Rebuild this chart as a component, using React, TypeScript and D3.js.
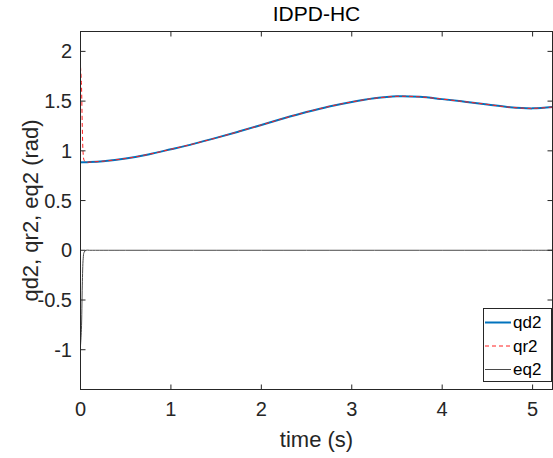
import React from 'react';
import * as d3 from 'd3';

// time samples (s), dense near t=0 to catch the start-up transient
const TIME = [0, 0.01, 0.02, 0.03, 0.04, 0.06, 0.1, 0.25, 0.5, 0.75, 1, 1.25, 1.5, 1.75, 2, 2.25, 2.5, 2.75, 3, 3.25, 3.5, 3.75, 4, 4.25, 4.5, 4.75, 5, 5.22];
// desired joint angle
const QD2 = [0.884, 0.884, 0.884, 0.885, 0.885, 0.886, 0.887, 0.896, 0.923, 0.964, 1.016, 1.07, 1.13, 1.194, 1.26, 1.327, 1.39, 1.446, 1.492, 1.528, 1.548, 1.543, 1.52, 1.494, 1.467, 1.438, 1.427, 1.44];
// real joint angle
const QR2 = [1.845, 1.685, 1.235, 0.965, 0.905, 0.886, 0.887, 0.896, 0.923, 0.964, 1.016, 1.07, 1.13, 1.194, 1.26, 1.327, 1.39, 1.446, 1.492, 1.528, 1.548, 1.543, 1.52, 1.494, 1.467, 1.438, 1.427, 1.44];
// tracking error
const EQ2 = [-0.96, -0.8, -0.35, -0.08, -0.02, 0, 0, 0, 0, 0, 0, 0, 0, 0, 0, 0, 0, 0, 0, 0, 0, 0, 0, 0, 0, 0, 0, 0];

const X_TICKS = [0, 1, 2, 3, 4, 5];
const Y_TICKS = [-1, -0.5, 0, 0.5, 1, 1.5, 2];
const SERIES_NAMES = ['qd2', 'qr2', 'eq2'];

const W = 553;
const H = 458;
const box = { left: 80.5, right: 552.5, top: 31.5, bottom: 389.5 };
const FONT = 'Liberation Sans, Arial, Helvetica, sans-serif';

const App = () => {
  const x = d3.scaleLinear().domain([0, 5.22]).range([box.left, box.right]);
  const y = d3.scaleLinear().domain([-1.4, 2.2]).range([box.bottom, box.top]);

  const line = (vals: number[]) =>
    d3.line<number>()
      .x((d, i) => x(TIME[i]))
      .y(d => y(d))
      .curve(d3.curveCatmullRom.alpha(0.5))(vals) || '';

  const styles = [
    { name: SERIES_NAMES[0], vals: QD2, color: '#0072BD', width: 2, dash: undefined },
    { name: SERIES_NAMES[1], vals: QR2, color: '#ff2020', width: 1, dash: '4,3' },
    { name: SERIES_NAMES[2], vals: EQ2, color: '#4a4a4a', width: 1, dash: undefined },
  ];

  const tickLen = 5;
  const legend = { left: 483.5, right: 551.5, top: 308.5, bottom: 381.5 };

  return (
    <svg width={W} height={H} style={{ position: 'absolute', left: 0, top: 0, background: '#fff' }} fontFamily={FONT}>
      <defs>
        <clipPath id="plot-clip">
          <rect x={box.left} y={box.top} width={box.right - box.left} height={box.bottom - box.top} />
        </clipPath>
      </defs>
      <rect x={0} y={0} width={W} height={H} fill="#fff" />

      {/* data lines */}
      <g clipPath="url(#plot-clip)">
        {styles.map(s => (
          <path key={s.name} d={line(s.vals)} fill="none" stroke={s.color}
            strokeWidth={s.width} strokeDasharray={s.dash} />
        ))}
      </g>

      {/* axes box */}
      <rect x={box.left} y={box.top} width={box.right - box.left} height={box.bottom - box.top}
        fill="none" stroke="#262626" strokeWidth={1} />

      {/* x ticks */}
      {X_TICKS.map(t => (
        <g key={'x' + t}>
          <line x1={x(t)} x2={x(t)} y1={box.bottom} y2={box.bottom - tickLen} stroke="#262626" />
          <line x1={x(t)} x2={x(t)} y1={box.top} y2={box.top + tickLen} stroke="#262626" />
          <text x={x(t)} y={416} textAnchor="middle" fontSize={20} fill="#262626">{t}</text>
        </g>
      ))}

      {/* y ticks */}
      {Y_TICKS.map(t => (
        <g key={'y' + t}>
          <line x1={box.left} x2={box.left + tickLen} y1={y(t)} y2={y(t)} stroke="#262626" />
          <line x1={box.right} x2={box.right - tickLen} y1={y(t)} y2={y(t)} stroke="#262626" />
          <text x={72} y={y(t)} dy="0.35em" textAnchor="end" fontSize={20} fill="#262626">{String(t)}</text>
        </g>
      ))}

      {/* labels */}
      <text x={(box.left + box.right) / 2} y={21} textAnchor="middle" fontSize={21} fill="#000">IDPD-HC</text>
      <text x={(box.left + box.right) / 2} y={447} textAnchor="middle" fontSize={22} fill="#262626">time (s)</text>
      <text transform={`translate(38,${(box.top + box.bottom) / 2}) rotate(-90)`} textAnchor="middle"
        fontSize={22} fill="#262626">qd2, qr2, eq2 (rad)</text>

      {/* legend */}
      <rect x={legend.left} y={legend.top} width={legend.right - legend.left} height={legend.bottom - legend.top}
        fill="#fff" stroke="#262626" strokeWidth={1} />
      {styles.map((s, i) => {
        const ly = 322.5 + i * 23.5;
        return (
          <g key={'lg' + s.name}>
            <line x1={485} x2={511} y1={ly} y2={ly} stroke={s.color} strokeWidth={s.width} strokeDasharray={s.dash} />
            <text x={513} y={ly} dy="0.35em" fontSize={17} fill="#000">{s.name}</text>
          </g>
        );
      })}
    </svg>
  );
};

export default App;
